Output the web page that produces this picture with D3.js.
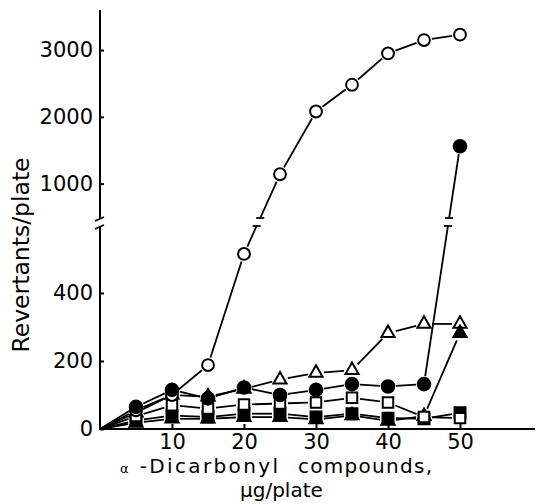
<!DOCTYPE html>
<html><head><meta charset="utf-8">
<script src="https://cdn.jsdelivr.net/npm/d3@7"></script>
<style>body{margin:0;background:#fff}</style>
</head><body>
<svg id="c" width="539" height="504"></svg>
<script>
const doses = [0,5,10,15,20,25,30,35,40,45,50];
const openCircle = [0,55,100,188,515,1140,2080,2480,2950,3150,3230];
const filledCircle = [0,65,115,90,122,100,115,132,125,132,1560];
const openTriangle = [0,48,100,95,118,145,165,173,282,309,309];
const filledTriangle = [0,18,30,30,35,35,28,40,24,38,282];
const openSquare = [0,38,70,60,72,75,78,92,78,35,32];
const filledSquare = [0,25,40,35,45,45,35,45,32,30,48];
const xTicks = [10,20,30,40,50];
const yLowTicks = [0,200,400];
const yHighTicks = [1000,2000,3000];

const svg = d3.select("#c");
const FONT = "DejaVu Sans, sans-serif";
const x = d3.scaleLinear().domain([0,50]).range([100,460]);
const LOW_MAX = 600;
const yLow = d3.scaleLinear().domain([0,LOW_MAX]).range([429,225]);
const yHigh = d3.scaleLinear().domain([500,3600]).range([217,10]);
const yPos = v => v <= LOW_MAX ? yLow(v) : yHigh(v);
const BREAK_LOW = 226, BREAK_HIGH = 218;

// axes
function styleAxis(g){
  g.select(".domain").remove();
  g.selectAll(".tick line").attr("stroke","#000").attr("stroke-width",2);
  g.selectAll(".tick text").attr("font-family",FONT).attr("font-size",21).attr("fill","#000");
}
svg.append("g").attr("transform","translate(100,0)")
  .call(d3.axisLeft(yLow).tickValues(yLowTicks).tickFormat(d3.format("d")).tickSizeInner(-4).tickSizeOuter(0).tickPadding(7))
  .call(styleAxis);
svg.append("g").attr("transform","translate(100,0)")
  .call(d3.axisLeft(yHigh).tickValues(yHighTicks).tickFormat(d3.format("d")).tickSizeInner(-4).tickSizeOuter(0).tickPadding(7))
  .call(styleAxis);
svg.append("g").attr("transform","translate(0,429)")
  .call(d3.axisBottom(x).tickValues(xTicks).tickSizeInner(-5).tickSizeOuter(0).tickPadding(5))
  .call(styleAxis);

// axis lines with break
const ax = svg.append("g").attr("stroke","#000").attr("stroke-width",2).attr("fill","none");
ax.append("line").attr("x1",100).attr("x2",100).attr("y1",yHigh(3600)).attr("y2",219);
ax.append("line").attr("x1",100).attr("x2",100).attr("y1",227).attr("y2",430);
ax.append("line").attr("x1",99).attr("x2",535).attr("y1",429).attr("y2",429);
ax.append("path").attr("d","M95,221 L104,217").attr("stroke-width",1.6);
ax.append("path").attr("d","M95,229 L104,225").attr("stroke-width",1.6);

// series
const series = [
  {vals: openTriangle, sym: d3.symbolTriangle, size: 75, fill: "#fff"},
  {vals: filledSquare, sym: d3.symbolSquare, size: 120, fill: "#000"},
  {vals: filledTriangle, sym: d3.symbolTriangle, size: 75, fill: "#000"},
  {vals: openSquare, sym: d3.symbolSquare, size: 110, fill: "#fff"},
  {vals: openCircle, sym: d3.symbolCircle, size: 110, fill: "#fff"},
  {vals: filledCircle, sym: d3.symbolCircle, size: 125, fill: "#000"}
];

const lineG = svg.append("g").attr("stroke","#000").attr("stroke-width",1.8).attr("fill","none");
function seg(a,b){ lineG.append("line").attr("x1",a[0]).attr("y1",a[1]).attr("x2",b[0]).attr("y2",b[1]); }
function shorten(p1,p2,g1,g2){
  const dx=p2[0]-p1[0], dy=p2[1]-p1[1], L=Math.hypot(dx,dy);
  if (L <= g1+g2+1) return null;
  const ux=dx/L, uy=dy/L;
  return [[p1[0]+ux*g1,p1[1]+uy*g1],[p2[0]-ux*g2,p2[1]-uy*g2]];
}
series.forEach(s=>{
  const pts = doses.map((d,i)=>[x(d), yPos(s.vals[i])]);
  for (let i=0;i<pts.length-1;i++){
    const p1=pts[i], p2=pts[i+1];
    const g1 = i===0 ? 0 : 8, g2 = 8;
    const crosses = (s.vals[i] <= LOW_MAX) !== (s.vals[i+1] <= LOW_MAX);
    if (!crosses){
      const r = shorten(p1,p2,g1,g2);
      if (r) seg(r[0],r[1]);
    } else {
      const lo = s.vals[i] <= LOW_MAX ? p1 : p2;
      const hi = s.vals[i] <= LOW_MAX ? p2 : p1;
      const at = yy => [lo[0] + (hi[0]-lo[0])*(lo[1]-yy)/(lo[1]-hi[1]), yy];
      const a = at(BREAK_LOW), b = at(BREAK_HIGH);
      const r1 = shorten(lo,a,8,0), r2 = shorten(b,hi,0,8);
      if (r1) seg(r1[0],r1[1]);
      if (r2) seg(r2[0],r2[1]);
      seg([a[0]-4,a[1]],[a[0]+4,a[1]]);
      seg([b[0]-4,b[1]],[b[0]+4,b[1]]);
    }
  }
});
series.forEach(s=>{
  svg.append("g").selectAll("path").data(doses.slice(1).map((d,i)=>[x(d), yPos(s.vals[i+1])]))
    .join("path")
    .attr("transform",d=>`translate(${d[0]},${d[1]})`)
    .attr("d",d3.symbol().type(s.sym).size(s.size))
    .attr("fill",s.fill).attr("stroke","#000").attr("stroke-width",2);
});

// titles
svg.append("text").attr("transform","translate(29,255) rotate(-90)")
  .attr("text-anchor","middle").attr("font-family",FONT).attr("font-size",23.5)
  .text("Revertants/plate");
const xt = svg.append("text").attr("x",120).attr("y",473)
  .attr("font-family",FONT).attr("font-size",20)
  .attr("textLength",158).attr("lengthAdjust","spacing");
xt.append("tspan").attr("font-size",13).text("α");
xt.append("tspan").text(" -Dicarbonyl");
svg.append("text").attr("x",298).attr("y",473)
  .attr("font-family",FONT).attr("font-size",20)
  .attr("textLength",134).attr("lengthAdjust","spacing")
  .text("compounds,");
svg.append("text").attr("x",240).attr("y",497)
  .attr("font-family",FONT).attr("font-size",20)
  .text("μg/plate");
</script>
</body></html>
